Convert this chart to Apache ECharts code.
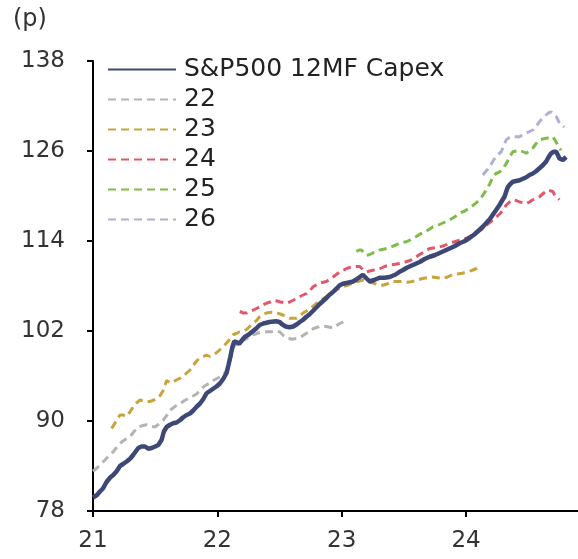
<!DOCTYPE html>
<html>
<head>
<meta charset="utf-8">
<script src="https://cdn.jsdelivr.net/npm/echarts@6/dist/echarts.min.js"></script>
<style>
  html, body { margin: 0; padding: 0; background: #fff; }
  #chart { width: 578px; height: 559px; }
</style>
</head>
<body>
<div id="chart"></div>
<script>
// Legend / series names
const seriesNames = ['S&P500 12MF Capex', '22', '23', '24', '25', '26'];
const xTicks = [21, 22, 23, 24];
const yTicks = [78, 90, 102, 114, 126, 138];
const unitLabel = '(p)';

// S&P500 12-month-forward capex (x = year, 21 = 2021)
const capex12mf = [
  [21.00,79.8],[21.03,80.1],[21.056,80.6],[21.08,81.0],[21.11,81.9],[21.14,82.5],[21.163,82.8],[21.19,83.3],
  [21.217,84.0],[21.245,84.3],[21.271,84.6],[21.30,85.0],[21.324,85.5],[21.364,86.4],[21.39,86.6],[21.418,86.6],
  [21.445,86.3],[21.472,86.4],[21.50,86.6],[21.525,86.8],[21.552,87.5],[21.57,88.6],[21.592,89.2],[21.62,89.5],
  [21.645,89.7],[21.672,89.8],[21.699,90.1],[21.726,90.5],[21.753,90.8],[21.78,91.0],[21.806,91.4],[21.833,91.9],
  [21.859,92.3],[21.886,92.9],[21.913,93.7],[21.94,94.0],[21.966,94.3],[21.993,94.6],[22.02,95.0],[22.047,95.6],
  [22.074,96.4],[22.09,97.5],[22.105,98.6],[22.12,99.8],[22.135,100.6],[22.155,100.5],[22.175,100.3],[22.2,100.8],
  [22.22,101.2],[22.25,101.5],[22.28,101.9],[22.31,102.3],[22.34,102.8],[22.37,103.0],[22.42,103.2],[22.47,103.3],
  [22.5,103.2],[22.52,102.9],[22.55,102.6],[22.58,102.5],[22.61,102.6],[22.64,102.9],[22.663,103.2],[22.69,103.5],
  [22.716,103.9],[22.74,104.2],[22.77,104.7],[22.8,105.2],[22.823,105.6],[22.85,106.0],[22.877,106.4],[22.9,106.8],
  [22.93,107.2],[22.96,107.7],[22.984,108.1],[23.01,108.3],[23.038,108.4],[23.065,108.5],[23.091,108.6],[23.12,108.9],
  [23.145,109.2],[23.17,109.5],[23.2,109.0],[23.225,108.6],[23.26,108.8],[23.305,109.1],[23.345,109.1],[23.386,109.2],
  [23.43,109.5],[23.466,109.9],[23.49,110.1],[23.52,110.4],[23.545,110.6],[23.573,110.8],[23.6,111.0],[23.627,111.2],
  [23.667,111.6],[23.707,111.9],[23.747,112.1],[23.787,112.4],[23.827,112.7],[23.867,113.0],[23.907,113.3],[23.948,113.7],
  [23.99,114.0],[24.028,114.4],[24.068,114.9],[24.108,115.5],[24.135,115.9],[24.162,116.4],[24.19,116.9],[24.215,117.5],
  [24.24,118.1],[24.269,118.8],[24.29,119.4],[24.309,119.9],[24.323,120.6],[24.336,121.2],[24.356,121.6],[24.376,121.9],
  [24.403,122.0],[24.43,122.1],[24.457,122.3],[24.484,122.5],[24.51,122.8],[24.537,123.0],[24.563,123.3],[24.59,123.7],
  [24.617,124.1],[24.644,124.6],[24.664,125.2],[24.684,125.7],[24.705,125.9],[24.725,125.9],[24.74,125.4],[24.751,125.0],
  [24.765,124.8],[24.778,124.8],[24.79,125.0],[24.805,125.2]
];

// Capex estimates for fiscal year 2022
const est22 = [
  [21.0,83.3],[21.03,83.7],[21.06,84.2],[21.096,84.8],[21.13,85.4],[21.163,85.9],[21.2,86.7],[21.23,87.2],
  [21.265,87.6],[21.297,87.9],[21.33,88.6],[21.364,89.2],[21.4,89.4],[21.431,89.5],[21.465,89.3],[21.498,89.2],
  [21.53,89.6],[21.564,90.1],[21.6,90.9],[21.632,91.6],[21.665,92.0],[21.699,92.3],[21.733,92.7],[21.766,93.0],
  [21.8,93.3],[21.833,93.6],[21.866,94.2],[21.9,94.7],[21.933,95.0],[21.967,95.4],[22.0,95.7],[22.047,96.1],
  [22.08,96.8],[22.1,98.0],[22.127,99.8],[22.16,100.4],[22.2,100.7],[22.25,101.1],[22.288,101.5],[22.34,101.8],
  [22.395,101.9],[22.44,101.9],[22.476,102.0],[22.5,101.9],[22.53,101.4],[22.556,101.1],[22.6,100.9],[22.636,101.0],
  [22.68,101.3],[22.716,101.7],[22.77,102.3],[22.823,102.6],[22.877,102.6],[22.93,102.4],[22.984,103.0],[23.038,103.4]
];

// Capex estimates for fiscal year 2023
const est23 = [
  [21.15,89.0],[21.19,90.1],[21.217,90.8],[21.243,90.8],[21.27,90.6],[21.297,91.2],[21.324,91.9],[21.35,92.4],
  [21.378,92.8],[21.418,92.6],[21.458,92.6],[21.49,92.8],[21.512,93.0],[21.54,93.4],[21.565,94.1],[21.592,95.4],
  [21.62,95.1],[21.645,95.2],[21.673,95.5],[21.7,95.7],[21.726,96.0],[21.753,96.4],[21.78,96.8],[21.806,97.4],
  [21.833,98.0],[21.86,98.4],[21.886,98.6],[21.913,98.8],[21.94,98.6],[21.966,98.8],[21.993,99.1],[22.02,99.5],
  [22.047,99.9],[22.074,100.4],[22.1,100.9],[22.127,101.5],[22.155,101.7],[22.18,101.9],[22.21,102.0],[22.235,102.2],
  [22.26,102.6],[22.288,103.0],[22.315,103.4],[22.34,103.9],[22.37,104.2],[22.395,104.4],[22.435,104.5],[22.476,104.4],
  [22.5,104.3],[22.53,104.1],[22.556,103.9],[22.58,103.7],[22.61,103.7],[22.636,103.7],[22.663,104.0],[22.69,104.4],
  [22.73,104.8],[22.77,105.3],[22.8,105.7],[22.823,106.1],[22.85,106.3],[22.877,106.6],[22.9,106.9],[22.93,107.2],
  [22.97,107.6],[23.01,107.9],[23.05,108.1],[23.09,108.4],[23.13,108.6],[23.17,108.8],[23.21,108.6],[23.25,108.4],
  [23.29,108.2],[23.33,108.1],[23.37,108.3],[23.41,108.6],[23.45,108.6],[23.49,108.6],[23.53,108.5],[23.57,108.6],
  [23.61,108.8],[23.65,109.0],[23.69,109.1],[23.73,109.2],[23.77,109.1],[23.81,109.0],[23.85,109.2],[23.89,109.5],
  [23.93,109.6],[23.97,109.7],[24.01,109.9],[24.05,110.1],[24.08,110.3],[24.11,110.6]
];

// Capex estimates for fiscal year 2024
const est24 = [
  [22.18,104.6],[22.21,104.4],[22.235,104.4],[22.26,104.6],[22.288,104.8],[22.315,105.0],[22.34,105.2],[22.37,105.5],
  [22.395,105.7],[22.43,105.9],[22.46,106.1],[22.5,105.9],[22.53,105.8],[22.556,105.7],[22.585,105.9],[22.61,106.1],
  [22.64,106.4],[22.663,106.6],[22.69,106.8],[22.716,107.0],[22.745,107.4],[22.77,107.9],[22.8,108.2],[22.823,108.4],
  [22.85,108.5],[22.877,108.6],[22.905,108.9],[22.93,109.2],[22.97,109.7],[23.01,110.1],[23.05,110.4],[23.09,110.6],
  [23.12,110.6],[23.145,110.6],[23.17,110.2],[23.2,109.9],[23.225,110.0],[23.25,110.1],[23.28,110.2],[23.305,110.3],
  [23.345,110.6],[23.386,110.8],[23.43,110.9],[23.466,111.0],[23.51,111.2],[23.55,111.4],[23.59,111.8],[23.627,112.2],
  [23.667,112.6],[23.707,113.0],[23.747,113.1],[23.787,113.2],[23.827,113.4],[23.867,113.7],[23.907,113.9],[23.948,114.1],
  [23.99,114.3],[24.028,114.6],[24.06,114.9],[24.095,115.2],[24.13,115.6],[24.162,116.1],[24.2,116.6],[24.243,117.2],
  [24.27,117.6],[24.296,118.1],[24.323,118.8],[24.35,119.2],[24.376,119.5],[24.403,119.4],[24.43,119.2],[24.457,119.1],
  [24.484,119.0],[24.51,119.2],[24.537,119.5],[24.563,119.7],[24.59,119.9],[24.625,120.4],[24.657,120.8],[24.677,120.7],
  [24.697,120.6],[24.71,120.2],[24.725,119.9],[24.751,119.5]
];

// Capex estimates for fiscal year 2025
const est25 = [
  [23.118,112.6],[23.14,112.8],[23.158,112.8],[23.18,112.4],[23.2,112.1],[23.225,112.2],[23.25,112.4],[23.28,112.6],
  [23.305,112.8],[23.335,112.9],[23.36,113.0],[23.385,113.1],[23.41,113.3],[23.44,113.5],[23.466,113.7],[23.49,113.8],
  [23.52,113.9],[23.545,114.1],[23.573,114.4],[23.6,114.6],[23.627,114.9],[23.655,115.1],[23.68,115.3],[23.707,115.6],
  [23.734,115.9],[23.76,116.0],[23.787,116.2],[23.827,116.5],[23.867,116.8],[23.907,117.2],[23.948,117.7],[23.99,118.0],
  [24.028,118.4],[24.068,118.9],[24.108,119.5],[24.135,120.1],[24.162,120.8],[24.19,121.6],[24.215,122.5],[24.24,123.0],
  [24.269,123.2],[24.296,123.7],[24.323,124.3],[24.35,125.2],[24.376,125.9],[24.403,126.0],[24.43,126.1],[24.457,125.9],
  [24.484,125.7],[24.51,126.0],[24.537,126.4],[24.563,127.0],[24.59,127.5],[24.617,127.6],[24.644,127.7],[24.67,127.8],
  [24.697,127.9],[24.717,127.4],[24.737,126.8],[24.75,126.4],[24.764,126.1]
];

// Capex estimates for fiscal year 2026
const est26 = [
  [24.135,122.8],[24.16,123.3],[24.19,123.9],[24.21,124.5],[24.23,125.0],[24.255,125.5],[24.283,125.9],[24.303,126.7],
  [24.323,127.5],[24.35,127.8],[24.376,127.9],[24.403,127.9],[24.43,127.9],[24.457,128.2],[24.484,128.4],[24.51,128.6],
  [24.537,128.8],[24.563,129.3],[24.59,129.9],[24.617,130.4],[24.644,130.8],[24.664,131.1],[24.684,131.2],[24.705,130.9],
  [24.725,130.6],[24.74,130.1],[24.751,129.7],[24.77,129.4],[24.79,129.2]
];

const FONT = 'DejaVu Sans';
const dash = [8, 5];

function dashedLine(name, data, color) {
  return {
    name: name,
    type: 'line',
    data: data,
    symbol: 'none',
    z: 2,
    lineStyle: { color: color, width: 3, type: dash },
    itemStyle: { color: color }
  };
}

const chart = echarts.init(document.getElementById('chart'), null, { renderer: 'canvas' });

chart.setOption({
  animation: false,
  backgroundColor: '#ffffff',
  grid: { left: 93, right: 0, top: 61, bottom: 48 },
  graphic: [{
    type: 'text',
    left: 13,
    top: 8,
    style: { text: unitLabel, fontSize: 24, fontFamily: FONT, fill: '#333' }
  }],
  legend: {
    orient: 'vertical',
    left: 102,
    top: 52,
    itemWidth: 68,
    itemHeight: 14,
    itemGap: 5,
    data: seriesNames,
    itemStyle: { opacity: 0 },
    textStyle: { fontSize: 25, fontFamily: FONT, color: '#222', lineHeight: 25, padding: [0, 0, 0, 3] }
  },
  xAxis: {
    type: 'value',
    min: 21,
    max: 24.9,
    axisLine: { show: true, lineStyle: { color: '#000', width: 2 } },
    axisTick: { show: true, customValues: xTicks, length: 6, lineStyle: { color: '#000', width: 2 } },
    axisLabel: { customValues: xTicks, fontSize: 23, fontFamily: FONT, color: '#333', margin: 19 },
    splitLine: { show: false }
  },
  yAxis: {
    type: 'value',
    min: 78,
    max: 138,
    axisLine: { show: true, lineStyle: { color: '#000', width: 2 } },
    axisTick: { show: true, customValues: yTicks, length: 6, lineStyle: { color: '#000', width: 2 } },
    axisLabel: { customValues: yTicks, fontSize: 23, fontFamily: FONT, color: '#333', margin: 28 },
    splitLine: { show: false }
  },
  series: [
    {
      name: seriesNames[0],
      type: 'line',
      data: capex12mf,
      symbol: 'none',
      z: 3,
      lineStyle: { color: '#3e4877', width: 4.5 },
      itemStyle: { color: '#3e4877' }
    },
    dashedLine(seriesNames[1], est22, '#b4b4b4'),
    dashedLine(seriesNames[2], est23, '#c9a43c'),
    dashedLine(seriesNames[3], est24, '#e5566a'),
    dashedLine(seriesNames[4], est25, '#7fbd4a'),
    dashedLine(seriesNames[5], est26, '#b0b0d6')
  ]
});
</script>
</body>
</html>
